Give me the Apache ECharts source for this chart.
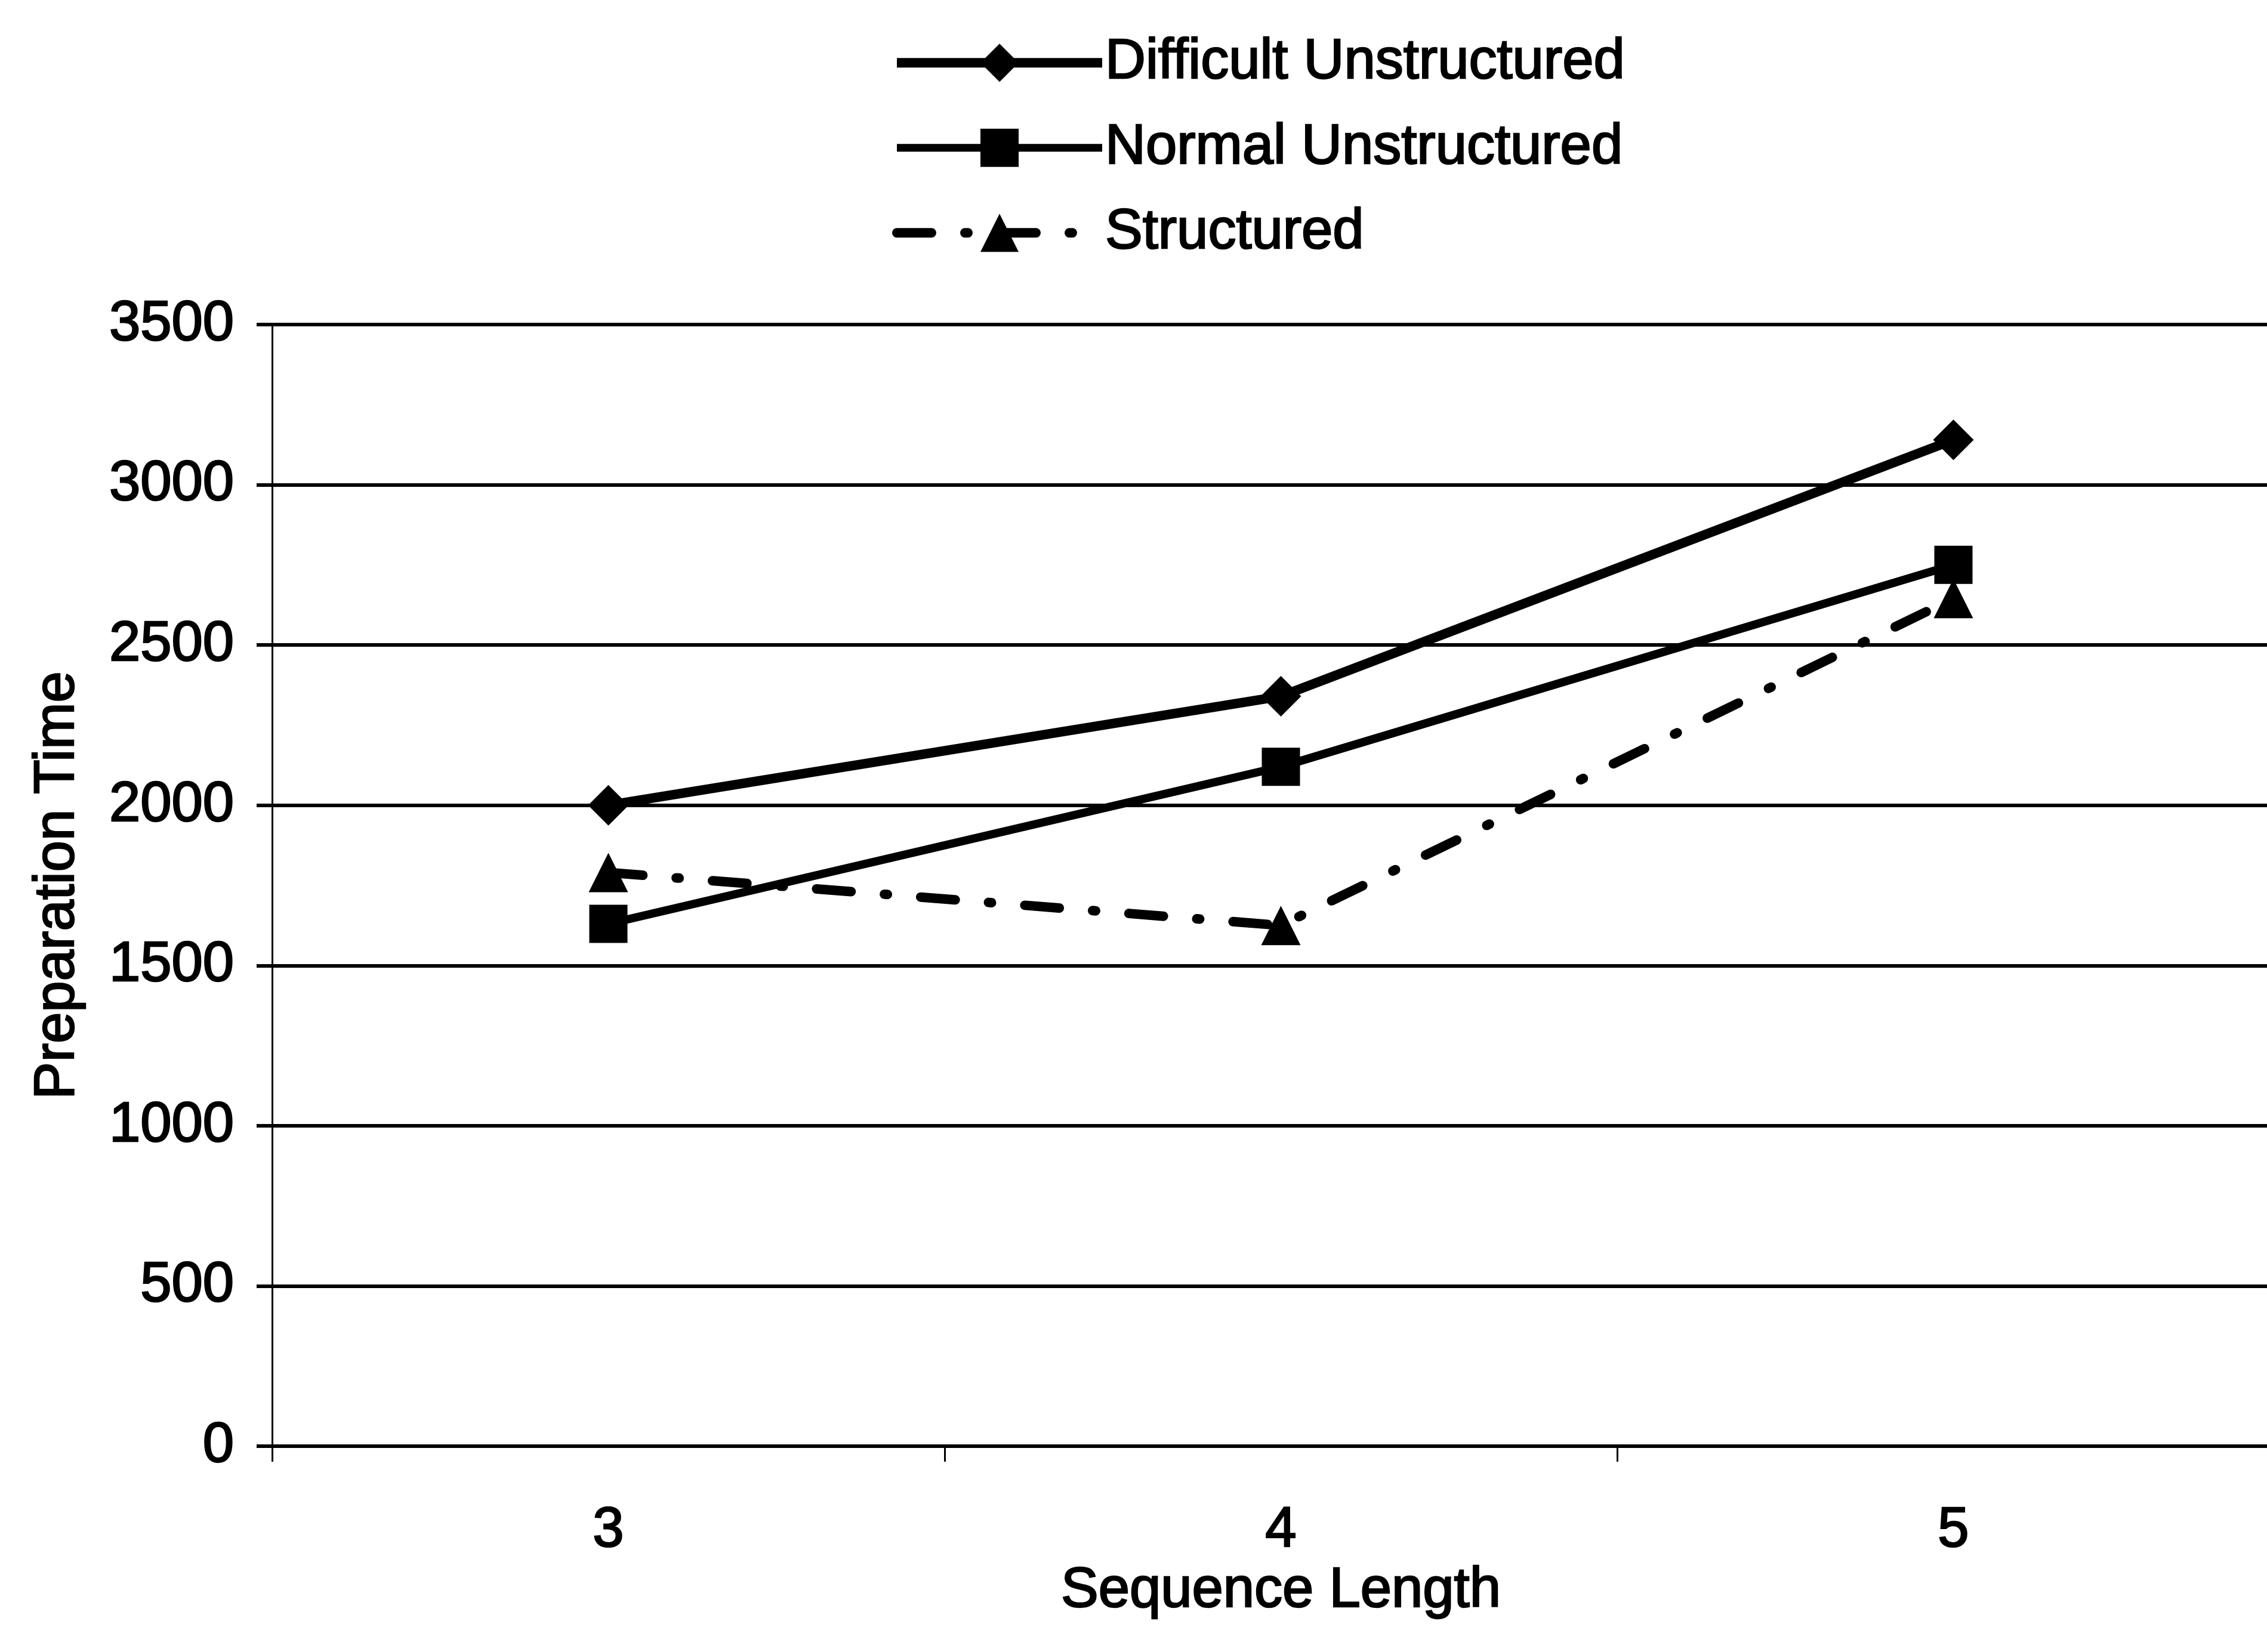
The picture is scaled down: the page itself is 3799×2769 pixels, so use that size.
<!DOCTYPE html>
<html>
<head>
<meta charset="utf-8">
<script src="https://cdn.jsdelivr.net/npm/echarts@6/dist/echarts.min.js"></script>
<style>
  html, body { margin: 0; padding: 0; background: #ffffff; }
  #chart { width: 3799px; height: 2769px; }
</style>
</head>
<body>
<div id="chart"></div>
<script>
// Sequence lengths on the x axis
const categories = ['3', '4', '5'];

// Preparation time per condition
const difficultUnstructured = [2000, 2340, 3140];
const normalUnstructured = [1630, 2120, 2750];
const structured = [1790, 1625, 2645];

// Value axis range
const yMin = 0;
const yMax = 3500;
const yStep = 500;

const FONT = '"Liberation Sans", Arial, Helvetica, sans-serif';
const INK = '#000000';

// Slightly heavy lettering, as printed
const textBase = {
  fontFamily: FONT,
  fontSize: 94,
  color: INK,
  textBorderColor: INK,
  textBorderWidth: 2.5
};

const structuredDash = [58, 56, 5, 56];

const chart = echarts.init(document.getElementById('chart'), null, { renderer: 'canvas' });

chart.setOption({
  backgroundColor: '#ffffff',
  animation: false,
  textStyle: { fontFamily: FONT, color: INK },
  legend: {
    orient: 'vertical',
    left: 1490,
    top: 52,
    itemWidth: 344,
    itemHeight: 80,
    itemGap: 46,
    itemTextGap: 15,
    textStyle: textBase,
    data: [
      { name: 'Difficult Unstructured', lineStyle: { color: INK, width: 16 } },
      { name: 'Normal Unstructured', lineStyle: { color: INK, width: 13 } },
      { name: 'Structured', lineStyle: { color: INK, width: 16, type: structuredDash, cap: 'round' } }
    ]
  },
  grid: {
    left: 456,
    top: 544,
    width: 3381,
    height: 1880,
    containLabel: false,
    outerBoundsMode: 'none'
  },
  xAxis: {
    type: 'category',
    data: categories,
    boundaryGap: true,
    name: 'Sequence Length',
    nameLocation: 'middle',
    nameGap: 164,
    nameTextStyle: textBase,
    axisLine: { show: true, lineStyle: { color: INK, width: 6 } },
    axisTick: { show: true, inside: false, length: 26, alignWithLabel: false, lineStyle: { color: INK, width: 3 } },
    axisLabel: Object.assign({ margin: 95 }, textBase),
    splitLine: { show: false }
  },
  yAxis: {
    type: 'value',
    min: yMin,
    max: yMax,
    interval: yStep,
    name: 'Preparation Time',
    nameLocation: 'middle',
    nameGap: 312,
    nameTextStyle: textBase,
    axisLine: { show: true, lineStyle: { color: INK, width: 3 } },
    axisTick: { show: true, inside: false, length: 26, lineStyle: { color: INK, width: 6 } },
    axisLabel: Object.assign({ margin: 64, formatter: (v) => String(v) }, textBase),
    splitLine: { show: true, lineStyle: { color: INK, width: 6 } }
  },
  series: [
    {
      name: 'Difficult Unstructured',
      type: 'line',
      data: difficultUnstructured,
      symbol: 'diamond',
      symbolSize: 68,
      itemStyle: { color: INK, borderWidth: 0 },
      lineStyle: { color: INK, width: 16 },
      z: 4
    },
    {
      name: 'Normal Unstructured',
      type: 'line',
      data: normalUnstructured,
      symbol: 'rect',
      symbolSize: 64,
      itemStyle: { color: INK, borderWidth: 0 },
      lineStyle: { color: INK, width: 14 },
      z: 3
    },
    {
      name: 'Structured',
      type: 'line',
      data: structured,
      symbol: 'triangle',
      symbolSize: 66,
      itemStyle: { color: INK, borderWidth: 0 },
      lineStyle: { color: INK, width: 16, type: structuredDash, cap: 'round' },
      z: 2
    }
  ]
});
</script>
</body>
</html>
